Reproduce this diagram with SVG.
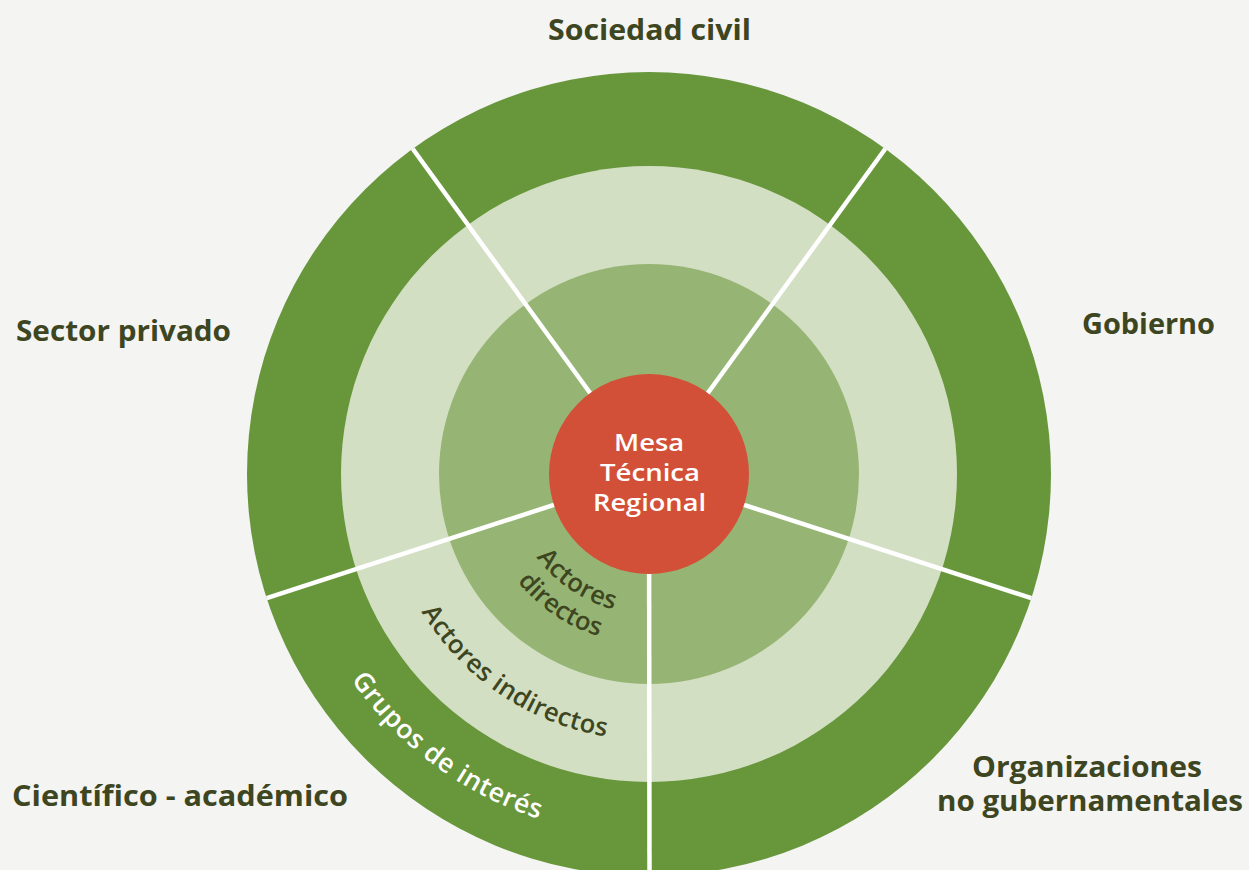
<svg xmlns="http://www.w3.org/2000/svg" width="1249" height="870" viewBox="0 0 1249 870">
<style>
.lbl{font-family:"Open Sans","Liberation Sans",sans-serif;font-weight:700;font-size:28px;fill:#3d4621}
.ctr{font-family:"Open Sans","Liberation Sans",sans-serif;font-weight:600;font-size:24px;fill:#ffffff}
.arc{font-family:"Open Sans","Liberation Sans",sans-serif;font-weight:600;font-size:25.5px;fill:#3d4621}
.arcw{font-family:"Open Sans","Liberation Sans",sans-serif;font-weight:600;font-size:26.5px;fill:#ffffff}
.div{stroke:#ffffff;stroke-width:4.5;fill:none}
</style>
<defs>
<path id="pA1" d="M509.77,488.63 A140,140 0 0 0 687.59,608.58"/>
<path id="pA2" d="M479.93,491.77 A170,170 0 0 0 695.86,637.41"/>
<path id="pI" d="M384.46,501.8 A266,266 0 0 0 722.32,729.7"/>
<path id="pG" d="M287.68,496.1 A362,362 0 0 0 733.51,826"/>
</defs>
<rect width="1249" height="870" fill="#f4f4f2"/>
<g id="ring-grupos"><circle cx="649" cy="474" r="402" fill="#68963b"/></g>
<g id="ring-indirectos"><circle cx="649" cy="474" r="308" fill="#d3dfc3"/></g>
<g id="ring-directos"><circle cx="649" cy="474" r="210" fill="#96b574"/></g>
<g id="connectors">
<line class="div" x1="649" y1="474" x2="649.5" y2="870"/>
<line class="div" x1="649" y1="474" x2="266.7" y2="598.2"/>
<line class="div" x1="649" y1="474" x2="412.7" y2="148.8"/>
<line class="div" x1="649" y1="474" x2="885.3" y2="148.8"/>
<line class="div" x1="649" y1="474" x2="1031.3" y2="598.2"/>
</g>
<g id="mesa">
<circle cx="649" cy="474" r="100" fill="#d35038"/>
<text class="ctr" x="614" y="451" textLength="70" lengthAdjust="spacingAndGlyphs">Mesa</text>
<text class="ctr" x="600" y="481" textLength="100" lengthAdjust="spacingAndGlyphs">Técnica</text>
<text class="ctr" x="593" y="511" textLength="113" lengthAdjust="spacingAndGlyphs">Regional</text>
</g>
<g id="label-directos">
<text class="arc" letter-spacing="0.3"><textPath href="#pA1" startOffset="50%" text-anchor="middle">Actores</textPath></text>
<text class="arc" letter-spacing="0"><textPath href="#pA2" startOffset="50%" text-anchor="middle">directos</textPath></text>
</g>
<g id="label-indirectos">
<text class="arc" letter-spacing="0.4"><textPath href="#pI" startOffset="50%" text-anchor="middle">Actores indirectos</textPath></text>
</g>
<g id="label-grupos">
<text class="arcw" letter-spacing="0.6"><textPath href="#pG" startOffset="50%" text-anchor="middle">Grupos de interés</textPath></text>
</g>
<g id="sociedad-civil"><text class="lbl" x="548" y="40" textLength="203" lengthAdjust="spacingAndGlyphs">Sociedad civil</text></g>
<g id="sector-privado"><text class="lbl" x="16" y="341" textLength="215" lengthAdjust="spacingAndGlyphs">Sector privado</text></g>
<g id="gobierno"><text class="lbl" x="1082" y="334" textLength="133" lengthAdjust="spacingAndGlyphs">Gobierno</text></g>
<g id="cientifico"><text class="lbl" x="12" y="806" textLength="336" lengthAdjust="spacingAndGlyphs">Científico - académico</text></g>
<g id="ong">
<text class="lbl" x="972" y="777" textLength="230" lengthAdjust="spacingAndGlyphs">Organizaciones</text>
<text class="lbl" x="937" y="811" textLength="306" lengthAdjust="spacingAndGlyphs">no gubernamentales</text>
</g>
</svg>
